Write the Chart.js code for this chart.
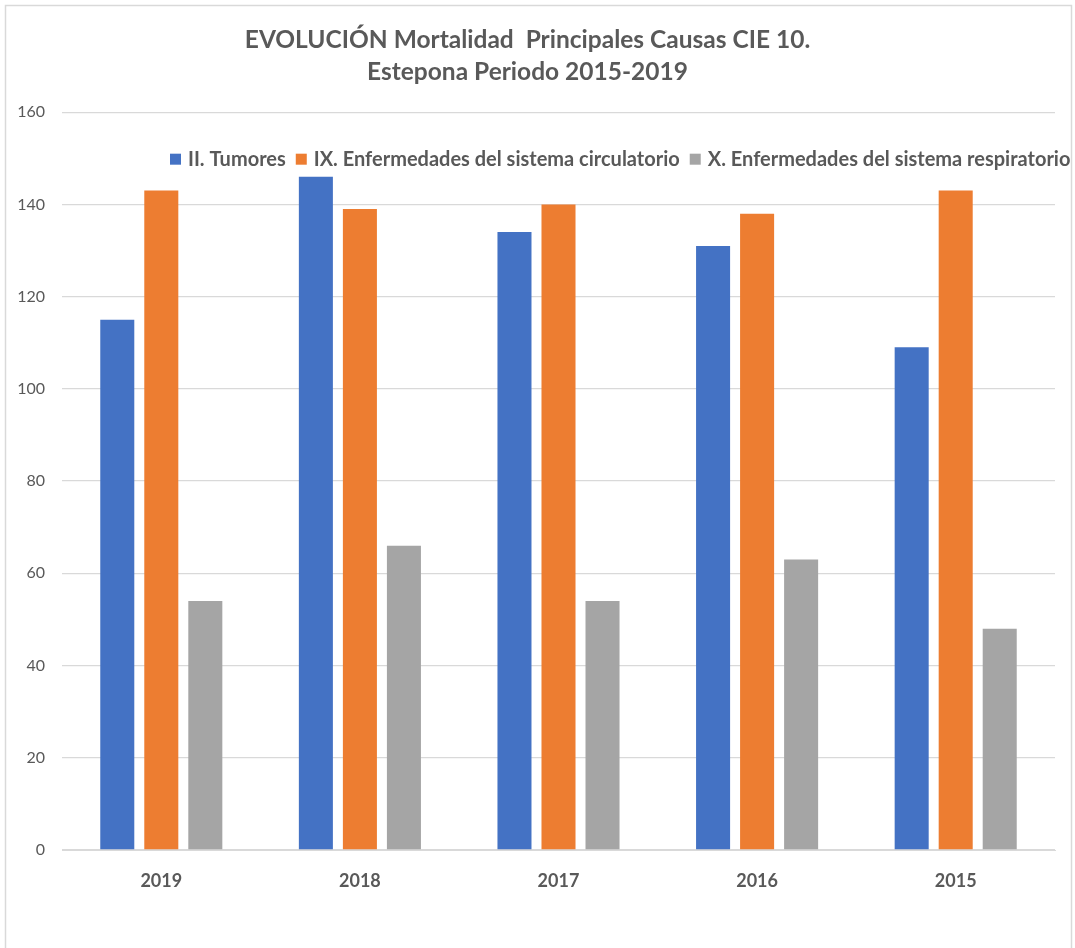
<!DOCTYPE html>
<html>
<head>
<meta charset="utf-8">
<script src="https://cdn.jsdelivr.net/npm/chart.js@4"></script>
<style>
  html, body { margin: 0; padding: 0; background: #fff; }
  #wrap { width: 1075px; height: 948px; position: relative; }
</style>
</head>
<body>
<div id="wrap"><canvas id="chart-mortalidad"></canvas></div>
<script>
const years = ['2019', '2018', '2017', '2016', '2015'];
const tumores = [115, 146, 134, 131, 109];
const circulatorio = [143, 139, 140, 138, 143];
const respiratorio = [54, 66, 54, 63, 48];

const FONT = 'Lato, "Open Sans", sans-serif';
const GREY_TEXT = '#595959';

// thin frame around the whole chart (runs off the bottom edge)
const framePlugin = {
  id: 'frame',
  beforeDraw(chart) {
    const ctx = chart.ctx;
    ctx.save();
    ctx.fillStyle = '#fff';
    ctx.fillRect(0, 0, chart.width, chart.height);
    ctx.strokeStyle = '#D9D9D9';
    ctx.lineWidth = 1.5;
    ctx.strokeRect(5.5, 5.5, chart.width - 9, chart.height + 10);
    ctx.restore();
  }
};

// one-row legend sitting inside the plot, just under the top gridline
const innerLegend = {
  id: 'innerLegend',
  afterDatasetsDraw(chart) {
    const ctx = chart.ctx;
    const box = 11;
    const y = chart.chartArea.top + 47;
    let x = 170;
    ctx.save();
    ctx.font = 'bold 20px ' + FONT;
    ctx.textBaseline = 'middle';
    ctx.textAlign = 'left';
    chart.data.datasets.forEach(ds => {
      ctx.fillStyle = ds.backgroundColor;
      ctx.fillRect(x, y - box / 2, box, box);
      x += box + 7;
      ctx.fillStyle = GREY_TEXT;
      ctx.fillText(ds.label, x, y);
      x += ctx.measureText(ds.label).width + 10;
    });
    ctx.restore();
  }
};

new Chart(document.getElementById('chart-mortalidad'), {
  type: 'bar',
  data: {
    labels: years,
    datasets: [{
      label: 'II. Tumores',
      backgroundColor: '#4472C4',
      data: tumores
    },
    {
      label: 'IX. Enfermedades del sistema circulatorio',
      backgroundColor: '#ED7D31',
      data: circulatorio
    },
    {
      label: 'X. Enfermedades del sistema respiratorio',
      backgroundColor: '#A5A5A5',
      data: respiratorio
    }]
  },
  options: {
    responsive: true,
    maintainAspectRatio: false,
    animation: false,
    categoryPercentage: 0.665,
    barPercentage: 0.773,
    layout: { padding: { left: 0, right: 20, top: 0, bottom: 0 } },
    plugins: {
      title: {
        display: true,
        text: ['EVOLUCIÓN Mortalidad  Principales Causas CIE 10.', 'Estepona Periodo 2015-2019'],
        color: GREY_TEXT,
        font: { family: FONT, size: 24.5, weight: 'bold', lineHeight: 1.31 },
        padding: { top: 24, bottom: 24 }
      },
      legend: { display: false },
      tooltip: { enabled: false }
    },
    scales: {
      x: {
        grid: { display: false },
        border: { color: '#D9D9D9' },
        ticks: {
          color: GREY_TEXT,
          font: { family: FONT, size: 18, weight: 'bold' },
          padding: 12
        },
        afterFit(scale) { scale.height = 98; }
      },
      y: {
        min: 0,
        max: 160,
        ticks: {
          stepSize: 20,
          color: GREY_TEXT,
          font: { family: FONT, size: 16 },
          padding: 17
        },
        grid: { color: '#D9D9D9', lineWidth: 1.3, drawTicks: false },
        border: { display: false },
        afterFit(scale) { scale.width = 62; }
      }
    }
  },
  plugins: [framePlugin, innerLegend]
});
</script>
</body>
</html>
